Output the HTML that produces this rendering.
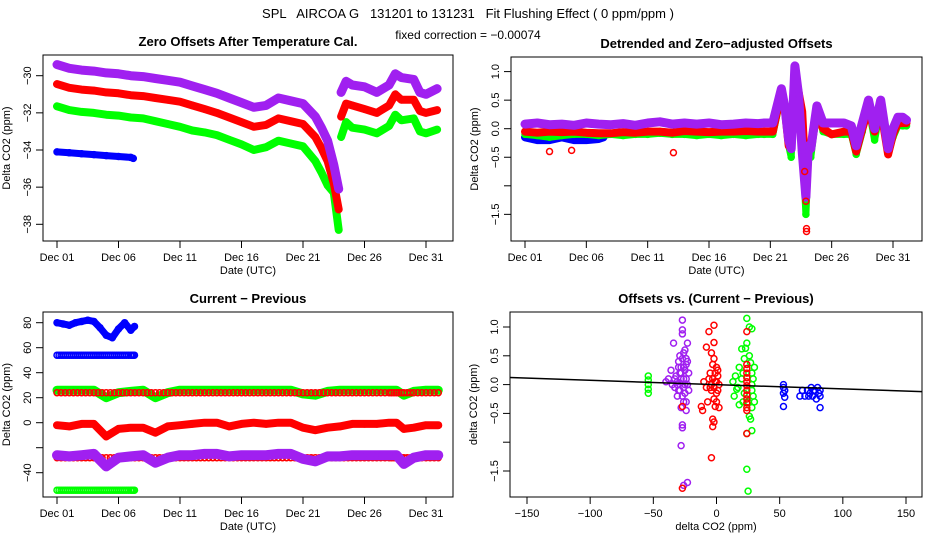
<!DOCTYPE html>
<html><head><meta charset="utf-8">
<style>
body{margin:0;background:#fff;}
svg{display:block;font-family:"Liberation Sans",sans-serif;}
</style></head>
<body>
<svg id="c" width="936" height="540" viewBox="0 0 936 540">
<text x="468" y="18" text-anchor="middle" font-size="13" xml:space="preserve">SPL   AIRCOA G   131201 to 131231   Fit Flushing Effect ( 0 ppm/ppm )</text>
<text x="468" y="39" text-anchor="middle" font-size="12">fixed correction = −0.00074</text>
</svg>
<script>
// ---- Panel 1 data ----
const p1T=[0,1,2,3,4,5,6,7,8,9,10,11,12,13,14,15,16,17,18,19,20,21,21.5,22,22.5,22.9,23.1,23.5,24,25,26,27,27.5,28,29,29.5,30,30.9];
const p1Break=26;
const p1Purple=[-29.4,-29.6,-29.7,-29.75,-29.85,-29.9,-30.0,-30.05,-30.15,-30.25,-30.35,-30.55,-30.75,-30.95,-31.2,-31.45,-31.7,-31.6,-31.2,-31.35,-31.5,-32.2,-32.8,-33.5,-34.8,-36.1,-30.9,-30.3,-30.5,-30.6,-30.9,-30.5,-29.9,-30.1,-30.2,-30.9,-31.0,-30.7];
const p1Red=[-30.45,-30.65,-30.75,-30.8,-30.9,-30.95,-31.05,-31.1,-31.2,-31.3,-31.4,-31.6,-31.8,-32.0,-32.25,-32.5,-32.75,-32.65,-32.3,-32.45,-32.6,-33.3,-33.9,-34.6,-35.8,-37.2,-32.2,-31.5,-31.6,-31.8,-32.0,-31.6,-31.0,-31.3,-31.3,-31.9,-32.0,-31.85];
const p1Green=[-31.65,-31.85,-31.95,-32.0,-32.1,-32.15,-32.25,-32.3,-32.45,-32.6,-32.75,-32.95,-33.05,-33.2,-33.45,-33.7,-34.0,-33.85,-33.5,-33.65,-33.8,-34.6,-35.2,-35.9,-36.3,-38.3,-33.3,-32.5,-32.8,-32.9,-33.1,-32.7,-32.1,-32.4,-32.3,-33.0,-33.1,-32.9];
const p1BlueT=[0,1,2,3,4,5,6,6.2];
const p1Blue=[-34.1,-34.15,-34.2,-34.25,-34.3,-34.35,-34.4,-34.45];
const p1YTicks=[-30,-32,-34,-36,-38];
// ---- Panel 2 data ----
const p2T=[0,1,2,3,4,5,6,7,8,9,10,11,12,13,14,15,16,17,18,19,19.5,20.2,20.9,21.2,21.5,21.7,22.0,22.3,22.6,22.9,23.1,23.3,23.8,24.3,25.0,26.0,26.6,27.0,27.5,28.0,28.5,29.0,29.6,30.0,30.4,30.8,31.1];
const p2Purple=[0.08,0.1,0.07,0.08,0.06,0.1,0.08,0.07,0.09,0.06,0.1,0.12,0.08,0.1,0.08,0.1,0.07,0.08,0.1,0.09,0.1,0.1,0.7,0.35,-0.2,-0.35,1.1,0.6,-0.4,-1.2,-0.3,-0.35,0.4,0.1,0.1,0.1,0.05,-0.3,0.1,0.5,0.0,0.5,-0.35,0.0,0.2,0.2,0.15];
const p2Red=[-0.05,-0.07,-0.05,-0.06,-0.05,-0.07,-0.08,-0.08,-0.06,-0.07,-0.05,-0.05,-0.07,-0.04,-0.05,-0.06,-0.05,-0.05,-0.04,-0.05,-0.05,-0.05,0.65,0.3,-0.3,-0.35,1.0,0.65,0.3,-1.0,-0.4,-0.35,0.3,0.0,-0.1,-0.05,-0.05,-0.4,0.0,0.35,-0.05,0.35,-0.45,-0.1,0.1,0.1,0.1];
const p2Green=[-0.1,-0.12,-0.15,-0.12,-0.1,-0.1,-0.12,-0.1,-0.12,-0.1,-0.1,-0.08,-0.1,-0.1,-0.12,-0.1,-0.12,-0.1,-0.12,-0.1,-0.1,-0.1,0.6,0.3,-0.3,-0.5,1.1,0.5,-0.2,-1.5,-0.5,-0.5,0.35,-0.05,-0.1,-0.1,-0.1,-0.45,-0.05,0.4,-0.2,0.4,-0.45,-0.15,0.05,0.05,0.05];
const p2BlueT=[0,1,2,3,4,5,6,6.4];
const p2Blue=[-0.15,-0.2,-0.2,-0.15,-0.2,-0.2,-0.18,-0.15];
const p2OutT=[2.0,3.8,12.1,22.95,22.95,22.9,22.8];
const p2OutV=[-0.4,-0.38,-0.42,-1.75,-1.8,-1.27,-0.75];
const p2YTicks=[1.0,0.5,0.0,-0.5,-1.0,-1.5];
const p2YLabels=["1.0","0.5","0.0","−0.5","","−1.5"];
// ---- Panel 3 data ----
const p3T=[0,1,2,3,4,5,6,7,8,9,10,11,12,13,14,15,16,17,18,19,20,21,22,23,24,25,26,27,27.6,28.2,29,30,31];
const p3RedMid=[-2,-3,-1,-1,-11,-5,-4,-4,-8,-3,-2,-1,0,0,-3,-1,0,-1,0,0,-4,-6,-4,-3,-1,-1,-1,0,0,-5,-4,-2,-2];
const p3Green=[26,26,26,26,20,24,25,26,20,24,26,26,26,26,26,26,26,26,26,26,23,22,25,26,26,26,26,26,26,22,25,26,26];
const p3Purple=[-26,-27,-26,-25,-35,-28,-27,-26,-32,-28,-26,-26,-25,-25,-27,-26,-26,-26,-25,-25,-29,-31,-27,-27,-26,-26,-26,-26,-26,-33,-28,-26,-26];
const p3RedTop=[24,24,24,24,24,24,24,24,24,24,24,24,24,24,24,24,24,24,24,24,24,24,24,24,24,24,24,24,24,24,24,24,24];
const p3RedLow=[-28,-28,-28,-28,-28,-28,-28,-28,-28,-28,-28,-28,-28,-28,-28,-28,-28,-28,-28,-28,-28,-28,-28,-28,-28,-28,-28,-28,-28,-28,-28,-28,-28];
const p3BlueT=[0,0.5,1,1.5,2,2.5,3,3.5,4,4.5,5,5.5,6,6.3];
const p3BlueTop=[80,79,78,80,81,82,81,76,70,68,75,80,74,77];
const p3BlueMid=[54,54,54,54,54,54,54,54,54,54,54,54,54,54];
const p3GreenLow=[-54,-54,-54,-54,-54,-54,-54,-54,-54,-54,-54,-54,-54,-54];
const p3YTicks=[80,60,40,20,0,-20,-40];
const p3YLabels=["80","60","40","20","0","","−40"];
// ---- Panel 4 data ----
const p4PurpleX=[-27,-27,-27,-34,-23,-26,-30,-36,-40,-38,-32,-28,-24,-22,-25,-30,-33,-27,-24,-28,-24,-27,-27,-28,-26,-23,-35,-31,-26,-22,-29,-25,-26,-24,-29,-31,-25,-23,-28,-26,-30,-27,-24,-33,-29,-26,-23,-28,-25,-31];
const p4PurpleY=[1.12,0.95,0.88,0.72,0.72,0.55,0.4,0.25,0.05,0.1,0.15,0.3,0.45,0.2,0.0,-0.1,-0.05,-0.2,-0.3,-0.4,-0.45,-0.7,-0.75,-1.06,-1.75,-1.7,0.0,-0.2,0.1,-0.1,0.5,0.6,0.3,0.35,0.2,0.05,-0.15,0.0,0.1,-0.3,0.3,0.45,0.1,0.1,-0.1,-0.05,0.4,0.2,0.25,0.0];
const p4RedX=[-2,-6,-2,-8,-4,-2,-3,0,-5,1,-10,-6,0,2,-8,-4,0,-2,-7,-12,-11,-1,2,-3,-2,-3,-4,-27,-27,-5,-1,1,-3,-1,1,-2,-4,0,24,24,24,24,24,24,24,24,24,24,24,24,24,24];
const p4RedY=[1.03,0.92,0.73,0.65,0.55,0.45,0.35,0.3,0.2,0.15,0.05,0.1,0.05,0.0,-0.05,-0.1,-0.15,-0.25,-0.3,-0.38,-0.45,-0.38,-0.4,-0.6,-0.65,-0.73,-1.27,-1.8,-0.38,-0.05,0.05,-0.1,0.1,0.2,0.25,-0.05,0.0,-0.3,0.35,0.28,0.2,0.12,0.05,-0.02,-0.1,-0.18,-0.25,-0.32,-0.4,-0.45,0.92,-0.85];
const p4GreenX=[-54,-54,-54,-54,-54,24,26,28,24,23,20,26,22,27,18,30,15,20,13,17,28,22,14,25,18,30,26,27,28,24,24,25,29,29,16,28,28,28,21,21];
const p4GreenY=[0.15,0.08,0.0,-0.08,-0.15,1.15,1.0,0.97,0.72,0.63,0.62,0.5,0.45,0.38,0.3,0.3,0.15,0.1,0.05,-0.05,-0.1,-0.15,-0.2,-0.3,-0.35,-0.3,-0.55,-0.6,-0.8,-0.85,-1.47,-1.85,0.1,-0.2,-0.08,0.2,-0.4,0.0,0.2,-0.3];
const p4BlueX=[53,53,54,53,54,53,66,68,70,72,74,75,76,78,79,80,81,82,82,82,73,77];
const p4BlueY=[0.0,-0.05,-0.1,-0.15,-0.22,-0.38,-0.2,-0.1,-0.2,-0.1,-0.15,-0.05,-0.2,-0.1,-0.25,-0.05,-0.15,-0.2,-0.1,-0.4,-0.2,-0.1];
const p4LineX=[-160,160];
const p4LineY=[0.12,-0.12];
const p4XTicks=[-150,-100,-50,0,50,100,150];
const p4XLabels=["−150","−100","−50","0","50","100","150"];
const p4YTicks=[1.0,0.5,0.0,-0.5,-1.0,-1.5];
const p4YLabels=["1.0","0.5","0.0","−0.5","","−1.5"];
const dateTicks=[0,5,10,15,20,25,30];
const dateLabels=["Dec 01","Dec 06","Dec 11","Dec 16","Dec 21","Dec 26","Dec 31"];

const NS="http://www.w3.org/2000/svg";
const svg=document.getElementById('c');
const PURPLE="#a020f0";
function mk(tag,attrs,parent){const e=document.createElementNS(NS,tag);for(const k in attrs)e.setAttribute(k,attrs[k]);(parent||svg).appendChild(e);return e;}
function lin(d0,d1,r0,r1){return v=>r0+(v-d0)*(r1-r0)/(d1-d0);}

function frame(g,box,title,xlab,ylab,xs,ys,xT,xL,yT,yL,name){
  const t=mk('text',{x:(box.x0+box.x1)/2,y:box.y0-9,'text-anchor':'middle','font-size':13,'font-weight':'bold'},g);
  
  
  t.textContent=title;
  const r=mk('rect',{x:box.x0,y:box.y0,width:box.x1-box.x0,height:box.y1-box.y0,fill:'none',stroke:'#000','stroke-width':1},g);
  
  
  xT.forEach((v,i)=>{const x=xs(v);
    mk('line',{x1:x,x2:x,y1:box.y1,y2:box.y1+7,stroke:'#000'},g);
    const l=mk('text',{x:x,y:box.y1+20,'text-anchor':'middle','font-size':11},g);
    
    
    l.textContent=xL[i];});
  yT.forEach((v,i)=>{const y=ys(v);
    mk('line',{x1:box.x0-7,x2:box.x0,y1:y,y2:y,stroke:'#000'},g);
    if(yL[i]){const l=mk('text',{x:box.x0-12,y:y,'text-anchor':'middle','font-size':11,transform:`rotate(-90 ${box.x0-12} ${y})`},g);
      
      
      l.textContent=yL[i];}});
  const xl=mk('text',{x:(box.x0+box.x1)/2,y:box.y1+33,'text-anchor':'middle','font-size':11},g);
  
  
  xl.textContent=xlab;
  const yx=box.x0-33, yy=(box.y0+box.y1)/2;
  const yl=mk('text',{x:yx,y:yy,'text-anchor':'middle','font-size':11,transform:`rotate(-90 ${yx} ${yy})`},g);
  
  
  yl.textContent=ylab;
}
function series(g,T,V,xs,ys,color,bw,name,brk){
  const sg=mk('g',{},g);
  
  
  const segs=brk?[[0,brk],[brk,T.length]]:[[0,T.length]];
  segs.forEach(([a,b])=>{
    let pts=[];for(let i=a;i<b;i++)pts.push(xs(T[i]).toFixed(1)+','+ys(V[i]).toFixed(1));
    if(bw>0)mk('polyline',{points:pts.join(' '),fill:'none',stroke:color,'stroke-width':bw,'stroke-linejoin':'round','stroke-linecap':'round'},sg);
  });
  for(let i=0;i<T.length;i++)mk('circle',{cx:xs(T[i]),cy:ys(V[i]),r:3,fill:'none',stroke:color,'stroke-width':1.5},sg);
}
function dots(g,T,V,xs,ys,color,name){
  const sg=mk('g',{},g);
  
  
  for(let i=0;i<T.length;i++)mk('circle',{cx:xs(T[i]),cy:ys(V[i]),r:3,fill:'none',stroke:color,'stroke-width':1.5},sg);
}
function rowDots(g,T,V,xs,ys,color,name){
  const sg=mk('g',{},g);
  
  
  for(let i=0;i<T.length-1;i++){
    for(let s=0;s<3;s++){const f=s/3;const t=T[i]+(T[i+1]-T[i])*f;const v=V[i]+(V[i+1]-V[i])*f;
      mk('circle',{cx:xs(t),cy:ys(v),r:3,fill:'none',stroke:color,'stroke-width':1.5},sg);}
  }
  mk('circle',{cx:xs(T[T.length-1]),cy:ys(V[V.length-1]),r:3,fill:'none',stroke:color,'stroke-width':1.5},sg);
}

// Panel 1
{const g=mk('g',{});
 const box={x0:43,x1:453,y0:55,y1:241};
 const xs=lin(0,30,57,426), ys=lin(-30,-38,75.7,224.3);
 frame(g,box,'Zero Offsets After Temperature Cal.','Date (UTC)','Delta CO2 (ppm)',xs,ys,dateTicks,dateLabels,p1YTicks,p1YTicks.map(v=>v===0?'0':'−'+Math.abs(v)),'zero-offsets');
 series(g,p1T,p1Green,xs,ys,'#00ff00',8,'series-green',p1Break);
 series(g,p1T,p1Red,xs,ys,'#ff0000',8,'series-red',p1Break);
 series(g,p1T,p1Purple,xs,ys,PURPLE,9,'series-purple',p1Break);
 series(g,p1BlueT,p1Blue,xs,ys,'#0000ff',7,'series-blue');}
// Panel 2
{const g=mk('g',{});
 const box={x0:511,x1:922,y0:57,y1:241};
 const xs=lin(0,30,525,893), ys=lin(0,1,128.7,71.6);
 frame(g,box,'Detrended and Zero−adjusted Offsets','Date (UTC)','Delta CO2 (ppm)',xs,ys,dateTicks,dateLabels,p2YTicks,p2YLabels,'detrended');
 series(g,p2BlueT,p2Blue,xs,ys,'#0000ff',8,'series-blue');
 series(g,p2T,p2Green,xs,ys,'#00ff00',7,'series-green');
 series(g,p2T,p2Red,xs,ys,'#ff0000',8,'series-red');
 series(g,p2T,p2Purple,xs,ys,PURPLE,9,'series-purple');
 dots(g,p2OutT,p2OutV,xs,ys,'#ff0000','outliers');}
// Panel 3
{const g=mk('g',{});
 const box={x0:43,x1:453,y0:312,y1:497};
 const xs=lin(0,30,57,426), ys=lin(0,80,422.7,322.7);
 frame(g,box,'Current − Previous','Date (UTC)','Delta CO2 (ppm)',xs,ys,dateTicks,dateLabels,p3YTicks,p3YLabels,'current-previous');
 series(g,p3T,p3Green,xs,ys,'#00ff00',9,'series-green');
 rowDots(g,p3T,p3RedTop,xs,ys,'#ff0000','series-red-constant-top');
 rowDots(g,p3T,p3RedLow,xs,ys,'#ff0000','series-red-constant-low');
 series(g,p3T,p3Purple,xs,ys,PURPLE,10,'series-purple');
 series(g,p3T,p3RedMid,xs,ys,'#ff0000',8,'series-red');
 series(g,p3BlueT,p3BlueTop,xs,ys,'#0000ff',7,'series-blue-top');
 rowDots(g,p3BlueT,p3BlueMid,xs,ys,'#0000ff','series-blue-constant');
 rowDots(g,p3BlueT,p3GreenLow,xs,ys,'#00ff00','series-green-constant');}
// Panel 4
{const g=mk('g',{});
 const box={x0:510,x1:922,y0:312,y1:497};
 const xs=lin(-150,150,527,906), ys=lin(0,1,384.6,327);
 frame(g,box,'Offsets vs. (Current − Previous)','delta CO2 (ppm)','delta CO2 (ppm)',xs,ys,p4XTicks,p4XLabels,p4YTicks,p4YLabels,'offsets-vs-diff');
 dots(g,p4GreenX,p4GreenY,xs,ys,'#00ff00','scatter-green');
 dots(g,p4PurpleX,p4PurpleY,xs,ys,PURPLE,'scatter-purple');
 dots(g,p4RedX,p4RedY,xs,ys,'#ff0000','scatter-red');
 dots(g,p4BlueX,p4BlueY,xs,ys,'#0000ff','scatter-blue');
 const m=(p4LineY[1]-p4LineY[0])/(p4LineX[1]-p4LineX[0]);
 const xv0=-150+(box.x0-527)*300/379, xv1=-150+(box.x1-527)*300/379;
 const fl=mk('line',{x1:box.x0,x2:box.x1,y1:ys(p4LineY[0]+m*(xv0-p4LineX[0])),y2:ys(p4LineY[0]+m*(xv1-p4LineX[0])),stroke:'#000','stroke-width':1.5},g);
 
 }
</script>
</body></html>
